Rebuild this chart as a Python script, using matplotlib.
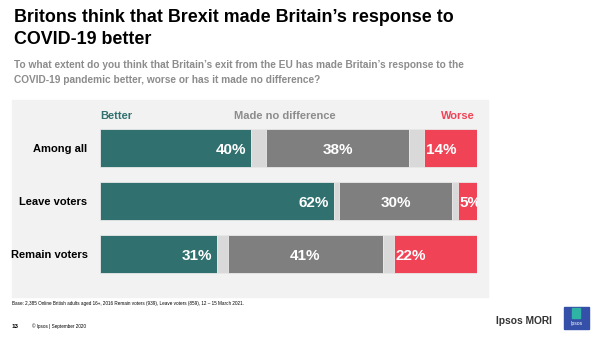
import matplotlib.pyplot as plt
from matplotlib.patches import Rectangle

plt.rcParams['font.family'] = ['Liberation Sans', 'DejaVu Sans']

# data
groups = ["Among all", "Leave voters", "Remain voters"]
better = [40, 62, 31]
no_diff = [38, 30, 41]
worse = [14, 5, 22]
# don't know share, drawn half before and half after "no difference"
dont_know = [8, 3, 6]

TEAL = "#30716F"
GREY = "#7F7F7F"
LIGHT = "#D9D9D9"
RED = "#F04356"
PANEL = "#F2F2F2"

W, H = 604, 338
fig = plt.figure(figsize=(W / 100, H / 100), dpi=100)


def fx(px):
    return px / W


def fy(py):
    return 1 - py / H


# grey panel behind the chart
fig.patches.append(Rectangle((fx(12), fy(297)), fx(476), 197 / H,
                             transform=fig.transFigure, color=PANEL, zorder=-1))

fig.text(fx(14), fy(17), "Britons think that Brexit made Britain\u2019s response to",
         fontsize=12.9, fontweight="bold", va="center")
fig.text(fx(14), fy(40), "COVID-19 better",
         fontsize=12.9, fontweight="bold", va="center")
fig.text(fx(14), fy(65), "To what extent do you think that Britain\u2019s exit from the EU has made Britain\u2019s response to the",
         fontsize=7.25, fontweight="bold", color="#8C8C8C", va="center")
fig.text(fx(14), fy(80), "COVID-19 pandemic better, worse or has it made no difference?",
         fontsize=7.25, fontweight="bold", color="#8C8C8C", va="center")

ax = fig.add_axes([fx(100), fy(280.5), fx(377), 159 / H])
ax.patch.set_alpha(0)
ypos = list(range(len(groups)))
bh = 0.72
edge = dict(edgecolor="#E8E8E8", linewidth=0.6)

ax.barh(ypos, better, height=bh, color=TEAL, **edge)
left = [b for b in better]
half_dk = [d / 2 for d in dont_know]
ax.barh(ypos, half_dk, left=left, height=bh, color=LIGHT, **edge)
left = [l + h for l, h in zip(left, half_dk)]
ax.barh(ypos, no_diff, left=left, height=bh, color=GREY, **edge)
nd_left = left
left = [l + n for l, n in zip(left, no_diff)]
ax.barh(ypos, half_dk, left=left, height=bh, color=LIGHT, **edge)
left = [l + h for l, h in zip(left, half_dk)]
ax.barh(ypos, worse, left=left, height=bh, color=RED, **edge)

for i in ypos:
    ax.text(better[i] - 1.2, i + 0.04, f"{better[i]}%", ha="right", va="center",
            color="white", fontsize=11, fontweight="bold")
    ax.text(nd_left[i] + no_diff[i] / 2, i + 0.04, f"{no_diff[i]}%", ha="center",
            va="center", color="white", fontsize=11, fontweight="bold")
    ax.text(left[i] + 0.4, i + 0.04, f"{worse[i]}%", ha="left", va="center",
            color="white", fontsize=11, fontweight="bold", clip_on=True)

ax.set_xlim(0, 100)
ax.set_ylim(2.5, -0.5)
ax.set_yticks(ypos, labels=groups)
ax.tick_params(axis="y", length=0, pad=9, labelsize=8)
for lbl in ax.get_yticklabels():
    lbl.set_fontweight("bold")
ax.set_xticks([])
for s in ax.spines.values():
    s.set_visible(False)

ax.text(0, -0.61, "Better", ha="left", va="center", color=TEAL,
        fontsize=8, fontweight="bold")
ax.text(49, -0.61, "Made no difference", ha="center", va="center", color="#8C8C8C",
        fontsize=8, fontweight="bold")
ax.text(99.5, -0.61, "Worse", ha="right", va="center", color=RED,
        fontsize=8, fontweight="bold")

# footer
fig.text(fx(12), fy(303.5), "Base: 2,385 Online British adults aged 16+, 2016 Remain voters (939), Leave voters (859), 12 \u2013 15 March 2021.",
         fontsize=3.3, va="center")
fig.text(fx(12), fy(326), "13", fontsize=4.5, fontweight="bold", va="center")
fig.text(fx(32), fy(326), "\u00a9 Ipsos | September 2020", fontsize=3.3, va="center")
fig.text(fx(552), fy(321), "Ipsos MORI", fontsize=7.4, fontweight="bold",
         color="#333333", ha="right", va="center")
fig.patches.append(Rectangle((fx(564), fy(329)), fx(25), 22 / H,
                             transform=fig.transFigure, color="#3450A8", zorder=2))
fig.patches.append(Rectangle((fx(572), fy(318)), fx(8), 10 / H,
                             transform=fig.transFigure, color="#2FB3A5", zorder=3))
fig.text(fx(576.5), fy(323.5), "Ipsos", fontsize=3.6, color="white",
         ha="center", va="center", zorder=4)

fig.savefig("out.png", dpi=100)
